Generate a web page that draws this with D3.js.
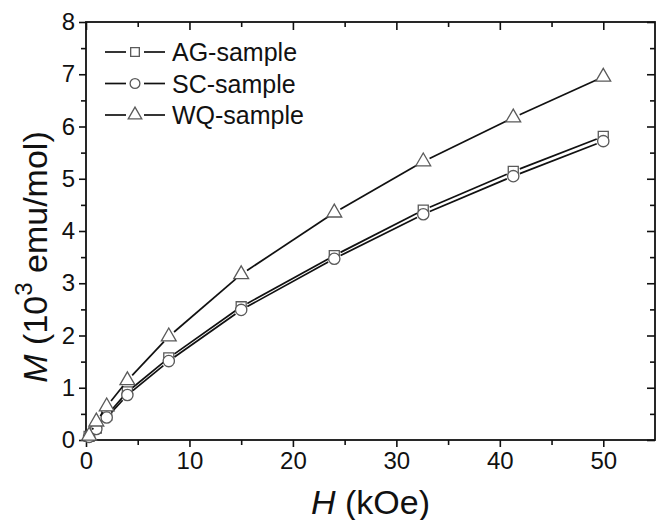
<!DOCTYPE html>
<html lang="en">
<head>
<meta charset="UTF-8">
<title>M vs H</title>
<script src="https://cdn.jsdelivr.net/npm/d3@7"></script>
<style>
    body { margin: 0; background: #fff; }
    .tick text { font-family: "Liberation Sans", Arial, sans-serif; font-size: 24px; fill: #111; }
    .titulo { font-family: "Liberation Sans", Arial, sans-serif; font-size: 34px; fill: #111; }
    .leyenda { font-family: "Liberation Sans", Arial, sans-serif; font-size: 25px; fill: #111; }
    .linea { fill: none; stroke: #111; stroke-width: 1.7; }
    .marca { fill: #fff; stroke: #5a5a5a; stroke-width: 1.3; }
</style>
</head>
<body>
<div id="grafico"></div>
<script>
// field values (kOe)
var campo = [0.3, 1, 2, 4, 8, 15, 24, 32.6, 41.3, 50];
// magnetization (10^3 emu/mol)
var agSample = [0.07, 0.23, 0.47, 0.92, 1.57, 2.55, 3.53, 4.40, 5.14, 5.81];
var scSample = [0.06, 0.21, 0.43, 0.86, 1.51, 2.49, 3.47, 4.32, 5.05, 5.72];
var wqSample = [0.08, 0.35, 0.64, 1.14, 1.98, 3.17, 4.35, 5.33, 6.17, 6.95];
var nombres = ["AG-sample", "SC-sample", "WQ-sample"];
var simbolos = [d3.symbolSquare, d3.symbolCircle, d3.symbolTriangle];
var xTicks = [0, 10, 20, 30, 40, 50];
var yTicks = [0, 1, 2, 3, 4, 5, 6, 7, 8];

var w = 656, h = 520;
var margen = {left: 86, right: 1, top: 22, bottom: 80};
var hueco = 7;   // gap between line and marker

var series = [agSample, scSample, wqSample].map(function(v, i){
    return {nombre: nombres[i], simbolo: simbolos[i],
            puntos: v.map(function(d, j){ return [campo[j], d]; })};
});

var x = d3.scaleLinear().domain([0, 55]).range([margen.left, w - margen.right]);
var y = d3.scaleLinear().domain([0, 8]).range([h - margen.bottom, margen.top]);

var svg = d3.select("#grafico").append("svg")
    .attr("width", w).attr("height", h);

// minor ticks
var xMin = d3.range(5, 55, 10), yMin = d3.range(0.5, 8, 1);

function ejes(g, eje){
    g.call(eje);
    g.select(".domain").remove();
    g.selectAll(".tick line").attr("stroke", "#111").attr("stroke-width", 1.6);
}

// bottom / left: outward ticks with labels
svg.append("g").attr("transform", "translate(0," + y(0) + ")")
    .call(ejes, d3.axisBottom(x).tickValues(xTicks).tickSize(7).tickPadding(5));
svg.append("g").attr("transform", "translate(0," + y(0) + ")")
    .call(ejes, d3.axisBottom(x).tickValues(xMin).tickSize(5).tickFormat(""));
svg.append("g").attr("transform", "translate(" + x(0) + ",0)")
    .call(ejes, d3.axisLeft(y).tickValues(yTicks).tickSize(7).tickPadding(4));
svg.append("g").attr("transform", "translate(" + x(0) + ",0)")
    .call(ejes, d3.axisLeft(y).tickValues(yMin).tickSize(5).tickFormat(""));

// top / right: inward ticks
svg.append("g").attr("transform", "translate(0," + y(8) + ")")
    .call(ejes, d3.axisTop(x).tickValues(xTicks).tickSize(-8).tickFormat(""));
svg.append("g").attr("transform", "translate(0," + y(8) + ")")
    .call(ejes, d3.axisTop(x).tickValues(xMin).tickSize(-5).tickFormat(""));
svg.append("g").attr("transform", "translate(" + x(55) + ",0)")
    .call(ejes, d3.axisRight(y).tickValues(yTicks).tickSize(-8).tickFormat(""));
svg.append("g").attr("transform", "translate(" + x(55) + ",0)")
    .call(ejes, d3.axisRight(y).tickValues(yMin).tickSize(-5).tickFormat(""));

// frame
svg.append("rect")
    .attr("x", x(0)).attr("y", y(8))
    .attr("width", x(55) - x(0)).attr("height", y(0) - y(8))
    .attr("fill", "none").attr("stroke", "#111").attr("stroke-width", 1.8);

// segments between points, stopped short of each marker
function tramos(p){
    var out = [];
    for (var i = 1; i < p.length; i++){
        var x1 = x(p[i-1][0]), y1 = y(p[i-1][1]), x2 = x(p[i][0]), y2 = y(p[i][1]);
        var L = Math.hypot(x2 - x1, y2 - y1);
        if (L <= 2 * hueco) continue;
        var ux = (x2 - x1) / L, uy = (y2 - y1) / L;
        out.push([x1 + ux * hueco, y1 + uy * hueco, x2 - ux * hueco, y2 - uy * hueco]);
    }
    return out;
}

var grupos = svg.selectAll(".serie").data(series).enter().append("g").attr("class", "serie");
grupos.each(function(s){
    var g = d3.select(this);
    g.selectAll(".linea").data(tramos(s.puntos)).enter().append("line")
        .attr("class", "linea")
        .attr("x1", function(d){ return d[0]; }).attr("y1", function(d){ return d[1]; })
        .attr("x2", function(d){ return d[2]; }).attr("y2", function(d){ return d[3]; });
    g.selectAll(".marca").data(s.puntos).enter().append("path")
        .attr("class", "marca")
        .attr("d", d3.symbol().type(s.simbolo).size(s.simbolo === d3.symbolTriangle ? 95 : 100))
        .attr("transform", function(d){ return "translate(" + x(d[0]) + "," + y(d[1]) + ")"; });
});

// legend
var ley = svg.selectAll(".ley").data(series).enter().append("g")
    .attr("transform", function(d, i){ return "translate(105," + (52 + i * 31.5) + ")"; });
ley.append("line").attr("x1", 0).attr("x2", 21).attr("stroke", "#111").attr("stroke-width", 1.7);
ley.append("line").attr("x1", 39).attr("x2", 60).attr("stroke", "#111").attr("stroke-width", 1.7);
ley.append("path").attr("class", "marca")
    .attr("d", function(d){ return d3.symbol().type(d.simbolo).size(d.simbolo === d3.symbolTriangle ? 80 : 75)(); })
    .attr("transform", "translate(30,0)");
ley.append("text").attr("class", "leyenda").attr("x", 67).attr("dy", "0.36em")
    .text(function(d){ return d.nombre; });

// axis titles
var tx = svg.append("text").attr("class", "titulo")
    .attr("x", (x(0) + x(55)) / 2).attr("y", h - 6).attr("text-anchor", "middle");
tx.append("tspan").attr("font-style", "italic").text("H");
tx.append("tspan").text(" (kOe)");

var ty = svg.append("text").attr("class", "titulo")
    .attr("font-size", "39px")
    .attr("transform", "translate(47,257) rotate(-90)")
    .attr("text-anchor", "middle");
ty.append("tspan").attr("font-style", "italic").text("M");
ty.append("tspan").text(" (10");
ty.append("tspan").attr("font-size", "24px").attr("dy", "-15").text("3");
ty.append("tspan").attr("dy", "15").text(" emu/mol)");
</script>
</body>
</html>
